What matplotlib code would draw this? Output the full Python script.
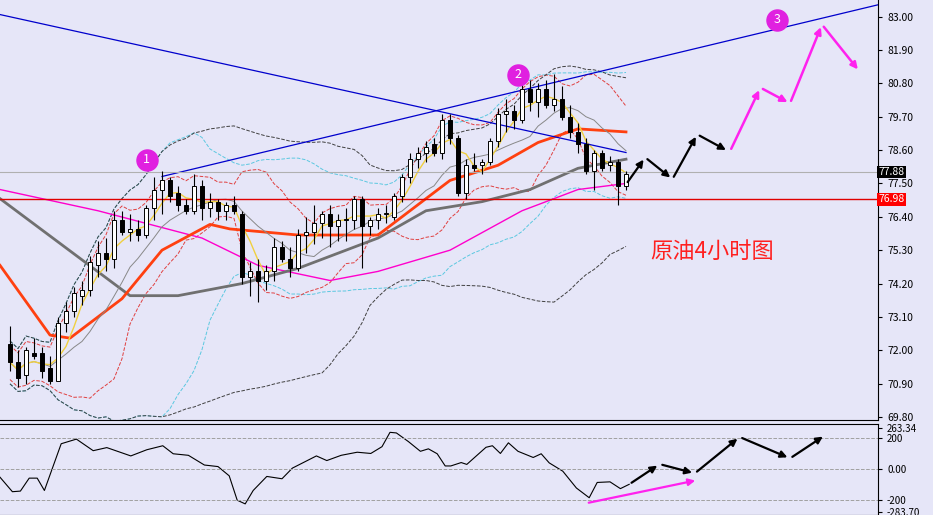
import numpy as np
import pandas as pd
import matplotlib.pyplot as plt
from matplotlib.patches import FancyArrowPatch

plt.rcParams['font.family'] = ['Noto Sans CJK SC', 'DejaVu Sans']

# 4h candles: open, high, low, close
opens = [72.2, 71.6, 71.2, 71.9, 71.9, 71.4, 71.0, 72.9, 73.3, 73.8, 74.0, 74.8, 75.2, 75.0, 76.3, 75.9,
         76.0, 75.8, 76.7, 77.3, 77.6, 77.2, 76.8, 76.6, 77.4, 76.7, 76.9, 76.6, 76.8, 76.5, 74.4, 74.6,
         74.3, 74.6, 75.4, 75.0, 74.7, 75.8, 75.9, 76.2, 76.5, 76.1, 76.3, 76.3, 77.0, 76.1, 76.3, 76.5,
         76.4, 77.1, 77.7, 78.3, 78.5, 78.8, 78.5, 79.6, 79.0, 77.2, 78.1, 78.1, 78.2, 78.9, 79.8, 79.9,
         79.6, 80.6, 80.2, 80.6, 80.1, 80.3, 79.7, 79.2, 78.8, 77.9, 78.5, 78.1, 78.2, 77.4]
highs = [72.8, 72.0, 72.1, 72.4, 72.1, 71.8, 73.1, 73.6, 74.1, 74.3, 75.1, 75.6, 75.7, 76.6, 76.6, 76.5,
         76.3, 76.8, 77.7, 77.9, 77.7, 77.4, 77.0, 77.8, 77.6, 77.2, 77.0, 76.9, 77.1, 76.6, 74.9, 75.0,
         74.8, 75.7, 75.6, 75.4, 76.0, 76.4, 76.8, 76.6, 76.8, 76.5, 76.7, 77.1, 77.1, 76.4, 76.7, 76.8,
         77.2, 77.8, 78.5, 78.7, 78.9, 79.0, 79.8, 79.8, 79.1, 78.3, 78.5, 78.3, 79.0, 80.0, 80.3, 80.1,
         80.9, 80.9, 80.8, 80.9, 81.1, 80.7, 80.1, 79.5, 79.0, 78.6, 78.6, 78.4, 78.3, 77.9]
lows = [71.3, 70.8, 70.9, 71.7, 71.1, 70.9, 71.0, 72.6, 73.1, 73.5, 73.8, 74.4, 74.6, 74.7, 75.8, 75.6,
        75.6, 75.7, 76.3, 76.5, 76.9, 76.6, 76.5, 76.5, 76.3, 76.4, 76.3, 76.3, 76.5, 74.2, 73.8, 73.6,
        74.0, 74.3, 74.9, 74.4, 74.6, 75.2, 75.5, 75.7, 75.4, 75.6, 75.6, 76.0, 74.7, 75.8, 76.0, 76.2,
        76.3, 76.9, 77.5, 78.0, 78.2, 78.4, 78.3, 78.8, 77.1, 77.0, 77.9, 77.8, 78.1, 78.7, 79.2, 79.3,
        79.5, 79.9, 79.7, 80.0, 79.9, 79.6, 79.0, 78.5, 77.8, 77.3, 77.9, 77.9, 76.8, 77.3]
closes = [71.6, 71.1, 72.0, 71.8, 71.3, 71.0, 72.9, 73.3, 73.9, 74.0, 74.9, 75.2, 75.0, 76.3, 75.9, 76.0,
          75.8, 76.7, 77.3, 77.6, 77.1, 76.8, 76.6, 77.4, 76.7, 76.9, 76.6, 76.8, 76.6, 74.4, 74.6, 74.3,
          74.6, 75.4, 75.0, 74.7, 75.8, 75.9, 76.2, 76.5, 76.1, 76.3, 76.3, 77.0, 76.1, 76.3, 76.5, 76.5,
          77.1, 77.7, 78.3, 78.5, 78.7, 78.5, 79.6, 79.0, 77.2, 78.1, 78.0, 78.2, 78.9, 79.8, 79.9, 79.6,
          80.6, 80.2, 80.6, 80.1, 80.3, 79.7, 79.2, 78.8, 77.9, 78.5, 78.0, 78.2, 77.4, 77.8]

# long moving averages (bar index, price)
ma_grey = [(-1.25, 77.0), (15, 73.8), (21, 73.8), (29, 74.2), (36, 74.7), (46, 75.7), (52, 76.6),
           (59, 76.9), (65, 77.3), (71, 78.0), (77, 78.3)]
ma_pink = [(-1.25, 77.3), (11, 76.6), (24, 75.7), (31, 74.8), (40, 74.3), (46, 74.6), (55, 75.3),
           (64, 76.6), (71, 77.3), (77, 77.5)]
ma_orange = [(-1.25, 74.8), (5, 72.5), (7.5, 72.4), (14, 73.7), (19, 75.3), (25, 76.15), (27.5, 76.0),
             (36, 75.8), (46, 75.8), (51, 76.8), (55, 77.6), (61, 78.1), (66, 78.85), (71, 79.3), (77, 79.2)]
# CCI (bar index, value)
cci_pts = [(-1.25, -55), (0.3, -149), (1.3, -145), (2.4, -61), (3.4, -61), (4.3, -141), (6.4, 162),
           (8.3, 192), (10.4, 117), (12.1, 137), (15.1, 83), (17.1, 123), (19.1, 149), (20.4, 97),
           (22.3, 87), (24.3, 24), (26, 14), (27.4, -46), (28.4, -204), (29.4, -228), (30.4, -141),
           (32.1, -50), (34, -65), (35.3, 4), (38.3, 83), (39.6, 53), (41.4, 87), (43.4, 107),
           (45.1, 99), (46.5, 143), (47.5, 236), (48.3, 232), (49.8, 176), (51.3, 113), (52.3, 129),
           (53.4, 97), (54.4, 18), (55.1, 18), (56.4, 40), (57.1, 28), (59.5, 139), (60.3, 149),
           (61.3, 99), (62.3, 168), (63.5, 113), (65.4, 73), (66.4, 97), (67.4, 38), (69.1, -16),
           (70.8, -125), (72.4, -188), (73.4, -89), (75, -85), (76.3, -129), (77.4, -101)]

# projected path (bar index, price)
proj_black = [(77, 77.47), (79.4, 78.36), (82.8, 77.64), (85.9, 79.12), (89.8, 78.56)]
proj_pink = [(90, 78.56), (93.8, 80.66), (97.5, 80.14), (101.5, 82.74), (106.2, 81.19)]
cci_black = [(77.4, -101), (81.2, 30), (85.6, -30), (91.2, 206), (97.5, 67), (101.9, 218)]
cci_pink = [(72, -224), (86, -73)]
wave_marks = [(17.1, 78.28, '1'), (63.5, 81.08, '2'), (95.9, 82.9, '3')]
trend_up = [(19, 77.73), (111, 83.55)]
trend_down = [(-1.25, 83.07), (77, 78.52)]
support = 76.98
last_price = 77.88
price_ticks = [69.8, 70.9, 72.0, 73.1, 74.2, 75.3, 76.4, 77.5, 78.6, 79.7, 80.8, 81.9, 83.0]

bg = '#E6E6F8'
df = pd.DataFrame({'o': opens, 'h': highs, 'l': lows, 'c': closes})
x = np.arange(len(df))

fig = plt.figure(figsize=(9.33, 5.15), dpi=100, facecolor=bg)
ax = fig.add_axes([0, 95 / 515, 878 / 933, 420 / 515])
ax2 = fig.add_axes([0, 0, 878 / 933, 91 / 515])
for a in (ax, ax2):
    a.set_facecolor(bg)
    a.yaxis.tick_right()
    a.set_xticks([])
    a.set_xlim(-1.25, 108.5)
    a.tick_params(axis='y', labelsize=7.5, length=3)
    a.spines['left'].set_visible(False)
ax.spines['top'].set_visible(False)

# bands
c = df['c']
for n, k, col in [(20, 2, '#5BC8E0'), (10, 1.6, '#E04040'), (40, 2, '#404040')]:
    m = c.rolling(n, min_periods=1).mean()
    sd = c.rolling(n, min_periods=2).std().bfill()
    ax.plot(x, m + k * sd, ls='--', lw=0.7, color=col)
    ax.plot(x, m - k * sd, ls='--', lw=0.7, color=col)
ax.plot(*zip(*ma_pink), color='#FF00CC', lw=1)
ax.plot(*zip(*ma_grey), color='#707070', lw=2)
ax.plot(*zip(*ma_orange), color='#FF4010', lw=2)
ax.plot(x, c.rolling(10, min_periods=1).mean(), color='#888888', lw=0.7)
ax.plot(x, c.rolling(4, min_periods=1).mean(), color='#F0D040', lw=1)

# candles
for i, r in df.iterrows():
    ax.vlines(i, r.l, r.h, color='black', lw=0.8, zorder=3)
    up = r.c >= r.o
    lo, hi = min(r.o, r.c), max(r.o, r.c)
    ax.bar(i, max(hi - lo, 0.04), bottom=lo, width=0.6, color='white' if up else 'black',
           edgecolor='black', lw=0.7, zorder=4)

ax.plot(*zip(*trend_up), color='#0000CC', lw=0.9)
ax.plot(*zip(*trend_down), color='#0000CC', lw=0.9)
ax.axhline(support, color='#E00000', lw=1)
ax.axhline(last_price, color='#B0B0B0', lw=0.8)


def arrows(a, pts, col, lw):
    for (x0, y0), (x1, y1) in zip(pts[:-1], pts[1:]):
        a.add_patch(FancyArrowPatch((x0, y0), (x1, y1), arrowstyle='-|>', mutation_scale=10,
                                    color=col, lw=lw, zorder=6))


arrows(ax, proj_black, 'black', 1.6)
arrows(ax, proj_pink, '#FF22EE', 1.8)
for xi, yi, t in wave_marks:
    ax.scatter(xi, yi, s=230, color='#E020E0', zorder=7)
    ax.text(xi, yi, t, color='white', ha='center', va='center', fontsize=9, zorder=8)
ax.text(80, 75.25, '原油4小时图', color='#FF2020', fontsize=16, va='center')

ax.set_ylim(69.7, 83.55)
ax.set_yticks(price_ticks)
ax.set_yticklabels([f'{v:.2f}' for v in price_ticks])
ax.text(108.6, last_price, f'{last_price:.2f}', color='white', fontsize=7.5, va='center',
        bbox=dict(fc='black', ec='none', pad=1))
ax.text(108.6, support, f'{support:.2f}', color='white', fontsize=7.5, va='center',
        bbox=dict(fc='red', ec='none', pad=1))

# CCI panel
ax2.plot(*zip(*cci_pts), color='black', lw=0.8)
for lv in (-200, 0, 200):
    ax2.axhline(lv, color='#A0A0A0', ls='--', lw=0.7)
arrows(ax2, cci_black, 'black', 1.6)
arrows(ax2, cci_pink, '#FF22EE', 1.6)
ax2.set_ylim(-300, 290)
ax2.set_yticks([-283.7, -200, 0, 200, 263.34])
ax2.set_yticklabels(['-283.70', '-200', '0.00', '200', '263.34'], fontsize=7)

fig.savefig('out.png', dpi=100, facecolor=bg)
